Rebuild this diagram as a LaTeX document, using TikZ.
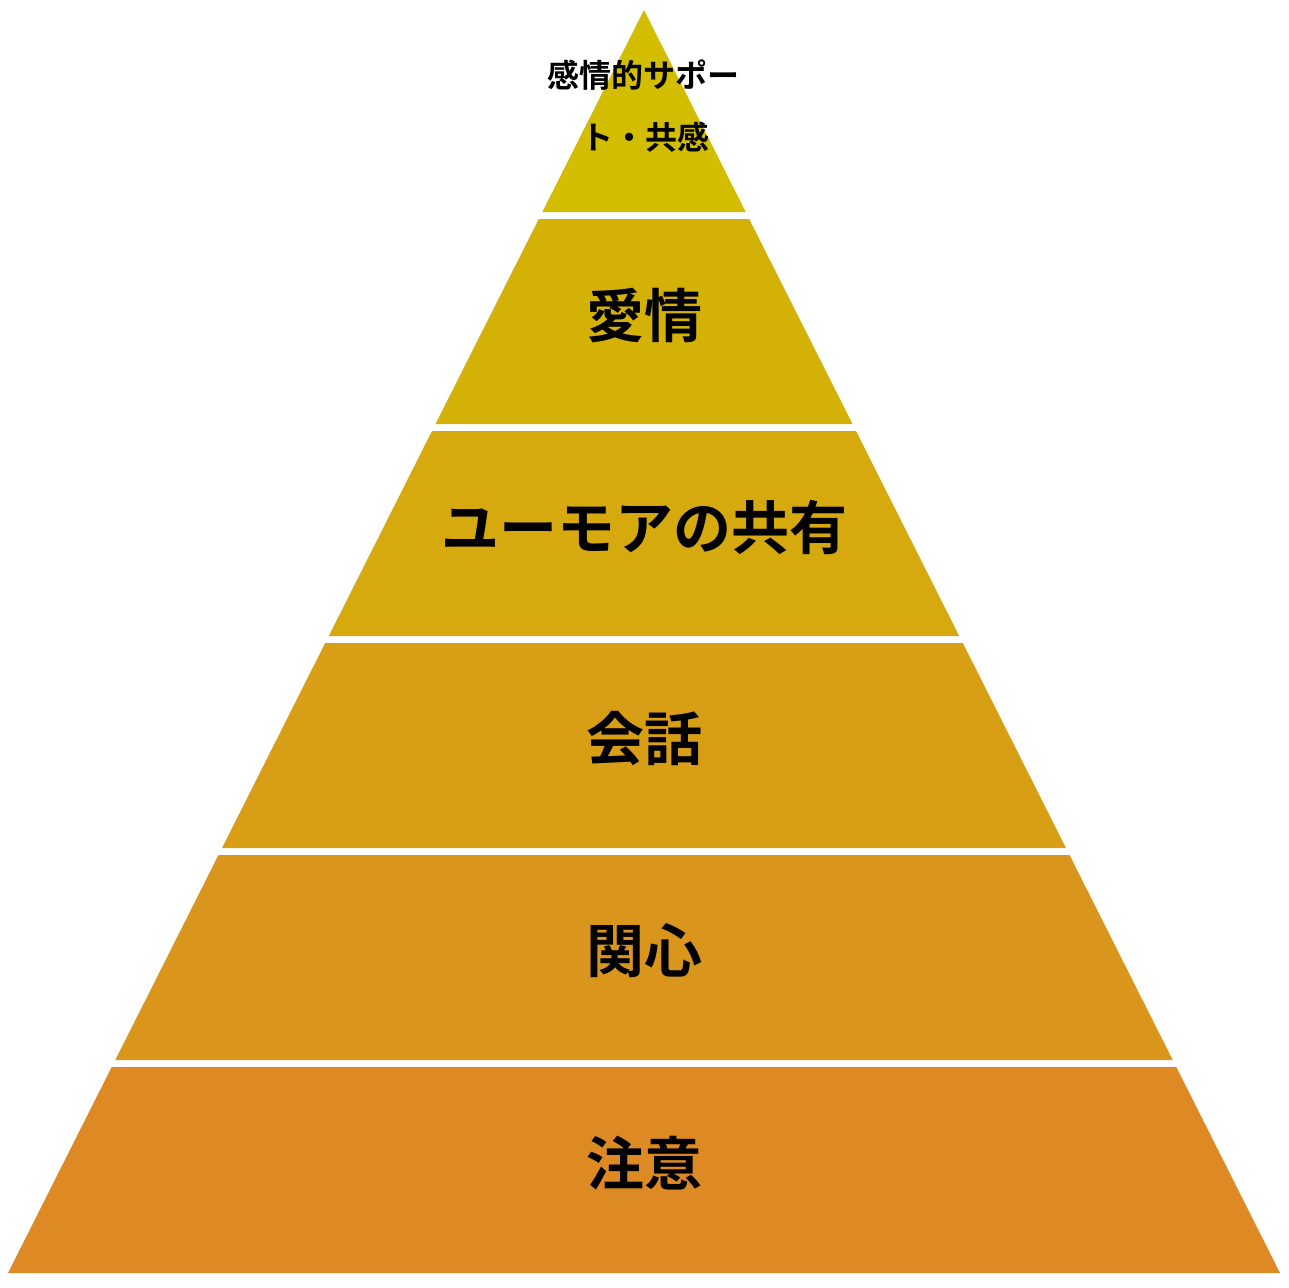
\documentclass[tikz,border=0pt]{standalone}
\usepackage{fontspec}
\newfontfamily\cjk{Noto Sans CJK JP}[BoldFont={Noto Sans CJK JP Bold}]
\definecolor{cA}{HTML}{D3BD00}
\definecolor{cB}{HTML}{D4B106}
\definecolor{cC}{HTML}{D6A90E}
\definecolor{cD}{HTML}{D89F16}
\definecolor{cE}{HTML}{DA961C}
\definecolor{cF}{HTML}{DD8A24}
\tikzset{
  band/.style={draw=none},
  lbl/.style={font=\cjk\bfseries\fontsize{58}{60}\selectfont, text=black, inner sep=0pt},
  toplbl/.style={font=\cjk\bfseries\fontsize{32}{60}\selectfont, text=black, inner sep=0pt, align=center}
}
\begin{document}
\begin{tikzpicture}[x=1pt,y=-1pt]
\useasboundingbox (0,0) rectangle (1288,1288);
\fill[white] (0,0) rectangle (1288,1288);
\fill[band,cA] (644,10) -- (745.7,212) -- (542.3,212) -- cycle;
\fill[band,cB] (538.8,219) -- (749.2,219) -- (852.5,424) -- (435.5,424) -- cycle;
\fill[band,cC] (432.0,431) -- (856.0,431) -- (959.2,636) -- (328.8,636) -- cycle;
\fill[band,cD] (325.2,643) -- (962.8,643) -- (1066.0,848) -- (222.0,848) -- cycle;
\fill[band,cE] (218.5,855) -- (1069.5,855) -- (1172.7,1060) -- (115.3,1060) -- cycle;
\fill[band,cF] (111.7,1067) -- (1176.3,1067) -- (1280,1273) -- (8,1273) -- cycle;
\node[toplbl] (l1a) at (643,75) {感情的サポー};
\node[toplbl] (l1b) at (645,137) {ト・共感};
\node[lbl] (l2) at (644,315) {愛情};
\node[lbl] (l3) at (644,527) {ユーモアの共有};
\node[lbl] (l4) at (644,739) {会話};
\node[lbl] (l5) at (644,951) {関心};
\node[lbl] (l6) at (644,1163) {注意};
\end{tikzpicture}
\end{document}
